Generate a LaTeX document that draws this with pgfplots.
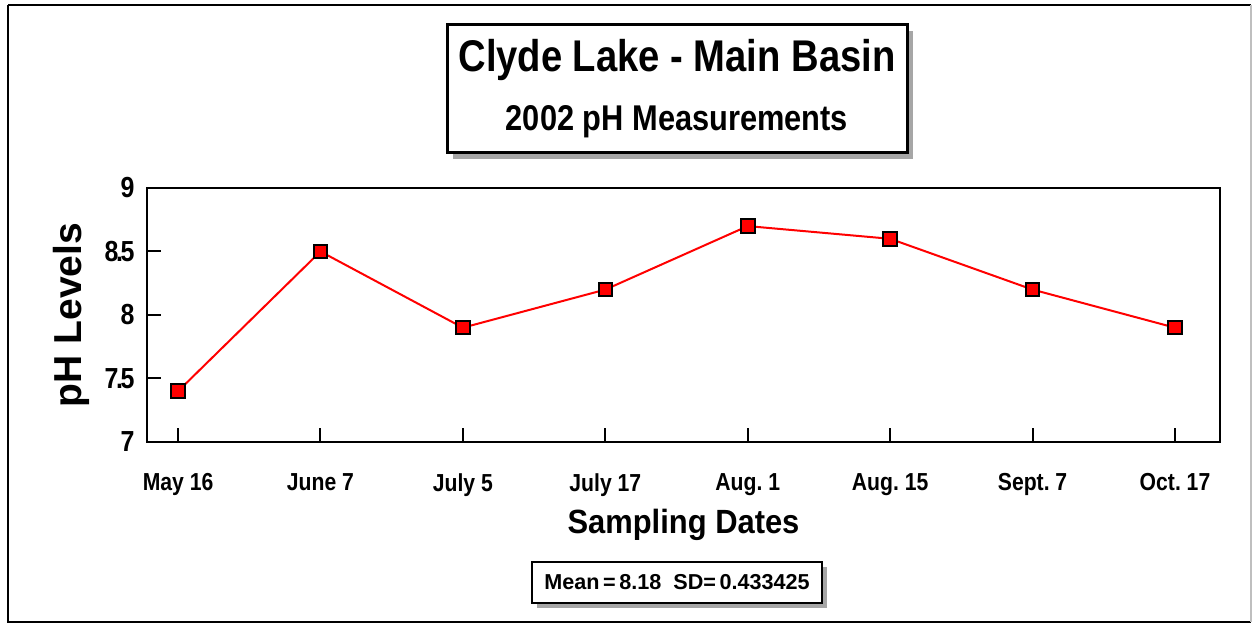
\documentclass[border=0pt]{standalone}
\usepackage{fontspec}
\setmainfont{Liberation Sans}
\newfontfamily\condf[FakeStretch=0.86]{Liberation Sans}
\newfontfamily\condg[FakeStretch=0.92]{Liberation Sans}
\usepackage{pgfplots}
\pgfplotsset{compat=1.18}
\newcommand{\dk}{\kern-1.2pt.\kern-1.2pt}
\begin{document}
\begin{tikzpicture}
\begin{axis}[
  scale only axis, width=536.5pt, height=127pt,
  xmin=-0.218, xmax=7.316, ymin=7, ymax=9,
  xtick={0,1,2,3,4,5,6,7},
  xticklabels={May 16,June 7,July 5,July 17,Aug.\ 1,Aug.\ 15,Sept.\ 7,Oct.\ 17},
  ytick={7,7.5,8,8.5,9},
  yticklabels={7,7\dk5,8,8\dk5,9},
  xtick pos=bottom, ytick pos=left,
  tick align=inside, major tick length=7pt,
  axis line style={line width=1pt},
  every tick/.style={black, line width=1pt},
  xticklabel style={font=\condf\bfseries\fontsize{12.3}{14}\selectfont, yshift=-12.2pt},
  yticklabel style={font=\condf\bfseries\fontsize{14.5}{16}\selectfont, xshift=-2.7pt},
  xlabel={\condg\bfseries\fontsize{16.8}{20}\selectfont Sampling Dates},
  xlabel style={at={(axis description cs:0.5,-0.327)}, anchor=center},
  ylabel={\bfseries\fontsize{19.5}{22}\selectfont pH Levels},
  ylabel style={at={(axis description cs:-0.070,0.5)}, anchor=center},
  clip=false,
]
\addplot[red, line width=1pt, mark=square*, mark size=3.4pt,
  mark options={fill=red, draw=black, line width=1pt}]
  coordinates {(0,7.4) (1,8.5) (2,7.9) (3,8.2) (4,8.7) (5,8.6) (6,8.2) (7,7.9)};
\coordinate (O) at (rel axis cs:0,0);
\end{axis}
\begin{scope}[shift={([shift={(-73.5pt,-91.5pt)}]O)}, x=1pt, y=1pt]
\useasboundingbox (0,0) rectangle (626.5,312.5);
% outer frame
\draw[line width=1pt] (4,310) -- (4,1.5) -- (625.5,1.5);
\draw[line width=1pt] (4,310) -- (625.5,310);
\draw[line width=0.8pt, gray!50] (625.5,310) -- (625.5,1.5);
% title box
\fill[gray!70] (226.5,233) rectangle (456.5,297);
\filldraw[fill=white, draw=black, line width=1.5pt] (223.5,236) rectangle (453.5,300);
\node[font=\condf\bfseries\fontsize{22.2}{24}\selectfont] at (338.5,282.5) {Clyde Lake - Main Basin};
\node[font=\condf\bfseries\fontsize{17.9}{20}\selectfont] at (338.5,251.5) {2002 pH Measurements};
% stats box
\fill[gray!70] (268.5,8.5) rectangle (413.5,29);
\filldraw[fill=white, draw=black, line width=1pt] (266,11) rectangle (411,31.5);
\node[font=\bfseries\fontsize{10.8}{12}\selectfont, inner sep=0pt] at (338.5,21.3) {Mean\,=\,8.18 \ SD=\,0.433425};
\end{scope}
\end{tikzpicture}
\end{document}
